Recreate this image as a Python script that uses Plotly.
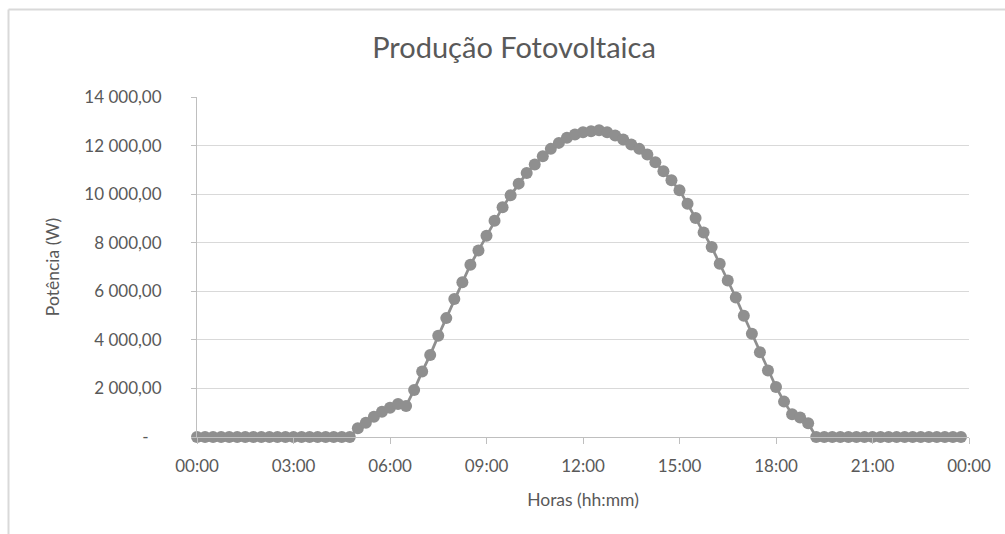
import plotly.graph_objects as go

# 15-minute intervals from 00:00 to 23:45
time_labels = [f"{h:02d}:{m:02d}" for h in range(24) for m in (0, 15, 30, 45)]
hours = [int(t[:2]) + int(t[3:]) / 60 for t in time_labels]

power_w = [
    0, 0, 0, 0, 0, 0, 0, 0, 0, 0, 0, 0, 0, 0, 0, 0, 0, 0, 0, 0,
    360, 590, 837, 1043, 1208, 1360, 1278, 1938, 2693, 3381,
    4165, 4895, 5680, 6370, 7093, 7682, 8289, 8907, 9456, 9951,
    10433, 10874, 11216, 11559, 11864, 12111, 12318, 12454, 12548, 12590,
    12631, 12548, 12412, 12247, 12041, 11864, 11629, 11311, 10940, 10569,
    10157, 9600, 9018, 8425, 7822, 7134, 6446, 5745, 4990, 4247,
    3493, 2734, 2060, 1457, 940, 800, 564, 0, 0, 0,
    0, 0, 0, 0, 0, 0, 0, 0, 0, 0, 0, 0, 0, 0, 0, 0,
]

x_tickvals = [0, 3, 6, 9, 12, 15, 18, 21, 24]
x_ticktext = ["00:00", "03:00", "06:00", "09:00", "12:00", "15:00", "18:00", "21:00", "00:00"]
y_tickvals = [0, 2000, 4000, 6000, 8000, 10000, 12000, 14000]
y_ticktext = ["-\u00a0\u00a0\u00a0", "2 000,00", "4 000,00", "6 000,00", "8 000,00",
              "10 000,00", "12 000,00", "14 000,00"]

FONT = "Lato"
TXT = "#595959"
SERIES = "#8f8f8f"
GRID = "#d9d9d9"
AXIS = "#bfbfbf"

fig = go.Figure()
fig.add_trace(go.Scatter(
    x=hours, y=power_w, mode="lines+markers",
    line=dict(color=SERIES, width=2.75),
    marker=dict(color=SERIES, size=12),
    cliponaxis=False, showlegend=False,
))

L, R, T, B = 197, 36, 97, 97
W, H = 1005, 534
pw, ph = W - L - R, H - T - B

def px2x(p):
    return (p - L) / pw

def py2y(p):
    return (H - B - p) / ph

fig.update_layout(
    width=W, height=H,
    margin=dict(l=L, r=R, t=T, b=B),
    paper_bgcolor="white", plot_bgcolor="white",
    font=dict(family=FONT, color=TXT, size=17),
    title=dict(text="Produção Fotovoltaica", x=514 / W, xanchor="center",
               y=1 - 48 / H, yanchor="middle", xref="container", yref="container",
               font=dict(size=29, color=TXT, family=FONT)),
    xaxis=dict(range=[0, 24], tickvals=x_tickvals, ticktext=x_ticktext,
               showgrid=False, showline=True, linecolor=AXIS, linewidth=1,
               ticks="outside", ticklen=6, tickcolor=AXIS,
               tickfont=dict(size=17, color=TXT), ticklabelstandoff=8,
               title=dict(text="Horas (hh:mm)", font=dict(size=17.5, color=TXT), standoff=18),
               zeroline=False),
    yaxis=dict(range=[0, 14000], tickvals=y_tickvals, ticktext=y_ticktext,
               showgrid=True, gridcolor=GRID, gridwidth=1,
               showline=True, linecolor=AXIS, linewidth=1,
               ticks="outside", ticklen=5, tickcolor=AXIS,
               tickfont=dict(size=17, color=TXT), ticklabelstandoff=26,
               title=dict(text="Potência (W)", font=dict(size=17.5, color=TXT), standoff=20),
               zeroline=False),
    shapes=[
        dict(type="line", xref="paper", yref="paper",
             x0=px2x(8.5), x1=px2x(1010), y0=py2y(9.5), y1=py2y(9.5),
             line=dict(color=GRID, width=2), layer="below"),
        dict(type="line", xref="paper", yref="paper",
             x0=px2x(8.5), x1=px2x(8.5), y0=py2y(9.5), y1=py2y(540),
             line=dict(color=GRID, width=2), layer="below"),
    ],
)

fig.write_html("out.html")
